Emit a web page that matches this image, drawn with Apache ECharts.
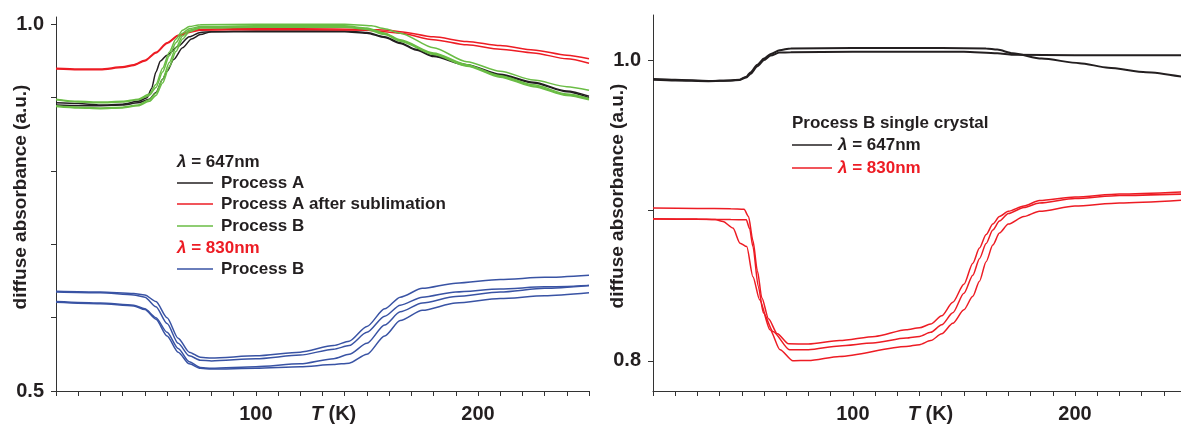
<!DOCTYPE html>
<html>
<head>
<meta charset="utf-8">
<script src="https://cdn.jsdelivr.net/npm/echarts@6/dist/echarts.min.js"></script>
<style>
html,body{margin:0;padding:0;background:#fff;}
#c{width:1181px;height:432px;}
</style>
</head>
<body>
<div id="c"></div>
<script>
// ---------- DATA ----------
// axis ticks / labels
const xTicks = [10,20,30,40,50,60,70,80,90,100,110,120,130,140,150,160,170,180,190,200,210,220,230,240,250];
const xLabels = [100, 200];
const leftYTicks = [0.5,0.6,0.7,0.8,0.9,1.0];
const leftYLabels = [0.5, 1.0];
const rightYTicks = [0.8,0.9,1.0];
const rightYLabels = [0.8, 1.0];

// Left panel, lambda = 647 nm : Process A (black)
const leftA_1 = [[10,0.893],[20,0.892],[30,0.890],[40,0.891],[47,0.895],[51,0.900],[53,0.912],[55,0.935],[57,0.950],[60,0.958],[65,0.970],[70,0.983],[75,0.989],[80,0.990],[100,0.990],[120,0.990],[140,0.990],[150,0.988],[158,0.982],[165,0.974],[172,0.965],[180,0.956],[195,0.944],[210,0.931],[225,0.920],[240,0.908],[250,0.900]];
const leftA_2 = [[10,0.890],[20,0.889],[30,0.889],[40,0.890],[47,0.893],[52,0.898],[55,0.907],[58,0.925],[60,0.936],[63,0.952],[67,0.968],[71,0.980],[75,0.986],[80,0.990],[100,0.991],[140,0.991],[150,0.989],[158,0.983],[165,0.975],[172,0.966],[180,0.957],[195,0.945],[210,0.932],[225,0.921],[240,0.909],[250,0.902]];
// Process A after sublimation (red)
const leftAS_1 = [[10,0.940],[20,0.939],[30,0.939],[40,0.942],[45,0.945],[50,0.951],[55,0.962],[60,0.975],[65,0.985],[70,0.990],[75,0.993],[90,0.994],[120,0.994],[150,0.993],[160,0.992],[165,0.990],[180,0.983],[195,0.9765],[210,0.971],[225,0.965],[240,0.958],[250,0.953]];
const leftAS_2 = [[10,0.939],[20,0.938],[30,0.938],[40,0.941],[45,0.944],[50,0.950],[55,0.961],[60,0.974],[65,0.984],[70,0.989],[75,0.992],[100,0.993],[150,0.992],[158,0.990],[165,0.988],[180,0.979],[195,0.972],[210,0.966],[225,0.961],[240,0.953],[250,0.947]];
// Process B (green)
const leftB647_1 = [[10,0.898],[20,0.895],[30,0.894],[40,0.895],[47,0.898],[52,0.905],[55,0.918],[58,0.940],[61,0.962],[64,0.980],[67,0.992],[70,0.997],[75,0.9995],[100,1.0],[140,1.0],[152,0.998],[158,0.994],[165,0.988],[180,0.968],[195,0.949],[210,0.936],[225,0.924],[240,0.915],[250,0.910]];
const leftB647_2 = [[10,0.897],[20,0.894],[30,0.893],[40,0.894],[47,0.897],[52,0.903],[55,0.914],[58,0.935],[61,0.957],[64,0.975],[67,0.988],[70,0.994],[75,0.997],[100,0.998],[140,0.998],[150,0.995],[158,0.988],[165,0.979],[180,0.961],[195,0.945],[210,0.930],[225,0.9175],[240,0.905],[250,0.899]];
const leftB647_3 = [[10,0.889],[20,0.887],[30,0.886],[40,0.887],[47,0.890],[52,0.897],[55,0.906],[58,0.925],[61,0.948],[64,0.968],[67,0.984],[70,0.992],[75,0.996],[100,0.997],[140,0.997],[150,0.994],[158,0.987],[165,0.978],[180,0.960],[195,0.944],[210,0.929],[225,0.916],[240,0.904],[250,0.898]];
const leftB647_4 = [[10,0.888],[20,0.886],[30,0.885],[40,0.886],[47,0.889],[52,0.895],[55,0.903],[58,0.920],[61,0.942],[64,0.963],[67,0.980],[70,0.990],[75,0.995],[100,0.996],[140,0.996],[150,0.993],[158,0.986],[165,0.977],[180,0.959],[195,0.943],[210,0.928],[225,0.915],[240,0.903],[250,0.897]];
// Left panel, lambda = 830 nm : Process B (blue)
const leftB830_1 = [[10,0.636],[30,0.635],[45,0.633],[50,0.631],[55,0.622],[60,0.600],[65,0.572],[70,0.553],[75,0.546],[80,0.545],[100,0.548],[120,0.553],[135,0.562],[142,0.568],[150,0.588],[158,0.612],[165,0.628],[175,0.640],[190,0.647],[210,0.652],[230,0.655],[250,0.658]];
const leftB830_2 = [[10,0.635],[30,0.634],[45,0.631],[50,0.628],[55,0.615],[60,0.592],[65,0.565],[70,0.548],[75,0.542],[80,0.541],[100,0.544],[120,0.549],[135,0.557],[142,0.562],[150,0.580],[158,0.602],[165,0.617],[175,0.628],[190,0.635],[210,0.639],[230,0.642],[250,0.644]];
const leftB830_3 = [[10,0.622],[30,0.620],[45,0.617],[50,0.612],[55,0.600],[60,0.580],[65,0.558],[70,0.540],[75,0.532],[80,0.531],[100,0.533],[120,0.537],[135,0.544],[142,0.550],[150,0.565],[158,0.590],[165,0.608],[175,0.620],[190,0.629],[210,0.635],[230,0.640],[250,0.644]];
const leftB830_4 = [[10,0.621],[30,0.619],[45,0.616],[50,0.611],[55,0.598],[60,0.575],[65,0.553],[70,0.537],[75,0.531],[80,0.530],[100,0.531],[120,0.533],[135,0.536],[142,0.538],[150,0.550],[158,0.575],[165,0.596],[175,0.610],[190,0.620],[210,0.626],[230,0.630],[250,0.634]];

// Right panel, Process B single crystal, lambda = 647 nm (black)
const right647_1 = [[10,0.987],[20,0.9865],[35,0.986],[45,0.9865],[49,0.987],[52,0.989],[54,0.992],[57,0.997],[60,1.001],[63,1.004],[67,1.0066],[72,1.0078],[100,1.008],[140,1.008],[160,1.0078],[165,1.007],[172,1.0045],[185,1.001],[202,0.998],[215,0.995],[232,0.992],[250,0.9885]];
const right647_2 = [[10,0.9875],[20,0.987],[35,0.9862],[45,0.9865],[49,0.9868],[52,0.9885],[54,0.991],[57,0.996],[60,1.000],[63,1.003],[67,1.005],[72,1.0052],[100,1.0055],[150,1.0055],[165,1.0045],[172,1.0035],[200,1.0033],[250,1.0033]];
// lambda = 830 nm (red)
const right830_1 = [[10,0.9016],[30,0.9014],[45,0.9012],[51,0.9008],[53,0.896],[55,0.880],[57,0.860],[59,0.842],[62,0.828],[66,0.818],[71,0.8114],[80,0.8112],[94,0.8135],[110,0.8163],[124,0.8207],[130,0.822],[135,0.8245],[140,0.830],[145,0.839],[150,0.851],[154,0.865],[157,0.875],[160,0.884],[163,0.891],[166,0.896],[170,0.8995],[177,0.903],[184,0.9066],[200,0.909],[220,0.911],[250,0.9125]];
const right830_2 = [[10,0.8943],[30,0.8942],[45,0.894],[52,0.8938],[53.5,0.888],[55,0.876],[57.4,0.8495],[59.7,0.832],[64,0.8196],[71.5,0.8074],[80,0.8074],[94,0.810],[109,0.8119],[124,0.8152],[130,0.8163],[135,0.819],[140,0.824],[145,0.832],[150,0.845],[154,0.857],[157,0.868],[160,0.878],[163,0.887],[166,0.893],[170,0.898],[177,0.902],[184,0.905],[200,0.908],[220,0.910],[250,0.911]];
const right830_3 = [[10,0.8945],[30,0.8943],[38,0.894],[41.5,0.8927],[46,0.8883],[49.2,0.8783],[52.2,0.876],[55,0.856],[58,0.8407],[62.7,0.8207],[67.2,0.8074],[73,0.8001],[80,0.8003],[94,0.803],[124,0.8096],[130,0.8108],[135,0.8135],[140,0.818],[145,0.825],[150,0.834],[154,0.843],[157,0.853],[160,0.866],[163,0.877],[166,0.885],[170,0.891],[177,0.896],[184,0.8995],[200,0.903],[220,0.905],[250,0.907]];

// ---------- STYLE ----------
const BLACK = '#231f20', RED = '#ed1c24', GREEN = '#6abd45', BLUE = '#3953a4';
const FONT = 'Liberation Sans, Arial, sans-serif';

function xAxis(gridIndex){
  return {
    type:'value', gridIndex, min:10, max:250,
    name:'{it|T} (K)', nameLocation:'middle', nameGap:13, nameMoveOverlap:false,
    nameTextStyle:{fontFamily:FONT, fontWeight:'bold', fontSize:20, color:BLACK, verticalAlign:'top', padding:[0,0,0,22],
      rich:{it:{fontStyle:'italic', fontWeight:'bold', fontFamily:FONT, fontSize:20, color:BLACK}}},
    axisLine:{show:true, lineStyle:{color:'#333', width:1}},
    axisTick:{show:true, inside:false, length:5, customValues:xTicks, lineStyle:{color:'#333'}},
    axisLabel:{show:true, customValues:xLabels, margin:13, fontFamily:FONT, fontWeight:'bold', fontSize:20, color:BLACK},
    splitLine:{show:false}
  };
}
function yAxis(gridIndex, min, max, ticks, labels){
  return {
    type:'value', gridIndex, min, max,
    name:'diffuse absorbance (a.u.)', nameLocation:'middle', nameRotate:90, nameGap:26, nameMoveOverlap:false,
    nameTextStyle:{fontFamily:FONT, fontWeight:'bold', fontSize:19, color:BLACK, padding:[0,0,0,14]},
    axisLine:{show:true, lineStyle:{color:'#333', width:1}},
    axisTick:{show:true, inside:false, length:5, customValues:ticks, lineStyle:{color:'#333'}},
    axisLabel:{show:true, customValues:labels, margin:12, formatter:v=>v.toFixed(1), fontFamily:FONT, fontWeight:'bold', fontSize:20, color:BLACK},
    splitLine:{show:false}
  };
}
function line(name, data, color, xi, w){
  return {name, type:'line', xAxisIndex:xi, yAxisIndex:xi, data, showSymbol:false, symbol:'none',
    smooth:0.25, smoothMonotone:'x', lineStyle:{color, width:w||1.5}, itemStyle:{color}, z:3, silent:true};
}

const LX = 177;
function legendText(x, y, text, color, size){
  return {type:'text', left:x, top:y-8, style:{text, fill:color, font:'bold '+(size||17)+'px '+FONT,
    rich:{l:{fontStyle:'italic', fontWeight:'bold', fontSize:size||17, fontFamily:FONT, fill:color}}}, z:10};
}
function legendLine(x1, x2, y, color){
  return {type:'line', shape:{x1, y1:y, x2, y2:y}, style:{stroke:color, lineWidth:1.5}, z:10};
}

const chart = echarts.init(document.getElementById('c'), null, {renderer:'canvas'});
chart.setOption({
  animation:false,
  backgroundColor:'#fff',
  grid:[
    {left:56, top:17, width:533, height:374, outerBoundsMode:'none', containLabel:false},
    {left:653, top:15, width:533, height:376, outerBoundsMode:'none', containLabel:false}
  ],
  xAxis:[xAxis(0), xAxis(1)],
  yAxis:[yAxis(0, 0.5, 1.01, leftYTicks, leftYLabels), yAxis(1, 0.78, 1.03, rightYTicks, rightYLabels)],
  series:[
    line('Process A', leftA_1, BLACK, 0),
    line('Process A', leftA_2, BLACK, 0),
    line('Process A after sublimation', leftAS_1, RED, 0),
    line('Process A after sublimation', leftAS_2, RED, 0),
    line('Process B 647', leftB647_1, GREEN, 0),
    line('Process B 647', leftB647_2, GREEN, 0),
    line('Process B 647', leftB647_3, GREEN, 0),
    line('Process B 647', leftB647_4, GREEN, 0),
    line('Process B 830', leftB830_1, BLUE, 0),
    line('Process B 830', leftB830_2, BLUE, 0),
    line('Process B 830', leftB830_3, BLUE, 0),
    line('Process B 830', leftB830_4, BLUE, 0),
    line('single crystal 647', right647_1, BLACK, 1, 2),
    line('single crystal 647', right647_2, BLACK, 1, 2),
    line('single crystal 830', right830_1, RED, 1),
    line('single crystal 830', right830_2, RED, 1),
    line('single crystal 830', right830_3, RED, 1)
  ],
  graphic:[
    legendText(LX, 162, '{l|λ} = 647nm', BLACK),
    legendLine(LX, 213, 183, BLACK), legendText(221, 183, 'Process A', BLACK),
    legendLine(LX, 213, 204, RED), legendText(221, 204, 'Process A after sublimation', BLACK),
    legendLine(LX, 213, 226, GREEN), legendText(221, 226, 'Process B', BLACK),
    legendText(LX, 248, '{l|λ} = 830nm', RED),
    legendLine(LX, 213, 269, BLUE), legendText(221, 269, 'Process B', BLACK),
    legendText(792, 123, 'Process B single crystal', BLACK),
    legendLine(792, 832, 145, BLACK), legendText(838, 145, '{l|λ} = 647nm', BLACK),
    legendLine(792, 832, 168, RED), legendText(838, 168, '{l|λ} = 830nm', RED)
  ]
});
</script>
</body>
</html>
